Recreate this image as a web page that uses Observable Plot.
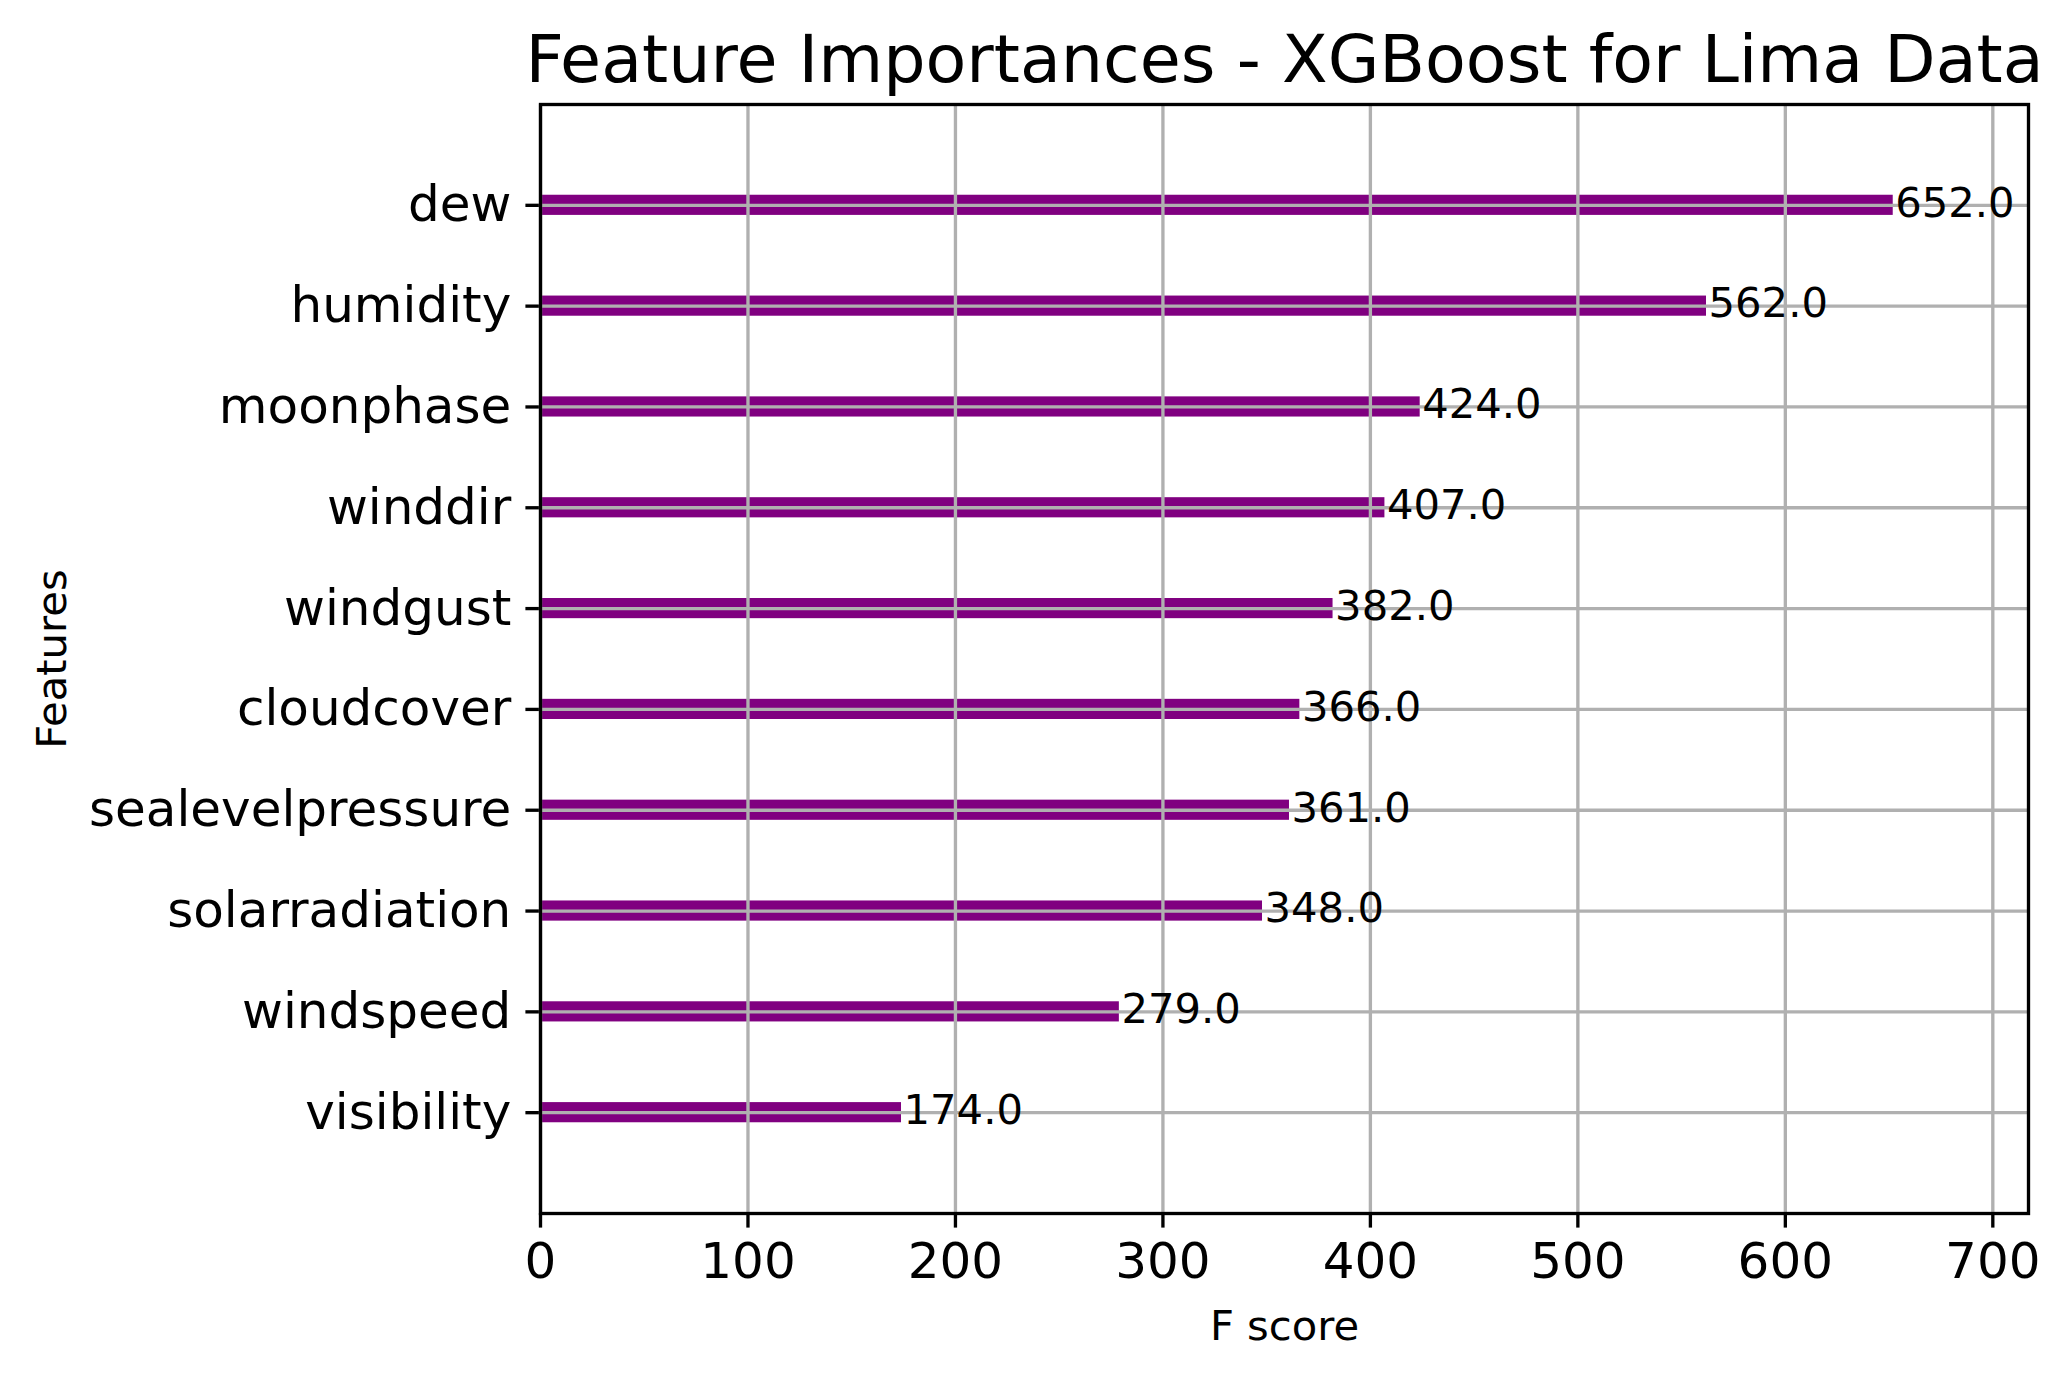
<!DOCTYPE html>
<html><head><meta charset="utf-8">
<script src="https://cdn.jsdelivr.net/npm/d3@7"></script>
<script src="https://cdn.jsdelivr.net/npm/@observablehq/plot@0.6"></script>
<style>html,body{margin:0;padding:0;background:#fff;} svg{display:block}</style>
</head><body><div id="chart"></div>
<script>
const features = ["dew","humidity","moonphase","winddir","windgust","cloudcover","sealevelpressure","solarradiation","windspeed","visibility"];
const scores = [652,562,424,407,382,366,361,348,279,174];
const xTicks = [0,100,200,300,400,500,600,700];
const titleText = "Feature Importances - XGBoost for Lima Data";
const xLabel = "F score";
const yLabel = "Features";

const data = features.map((f, i) => ({feature: f, score: scores[i]}));
const lw = 3.33;
const tick = 14.6;

const chart = Plot.plot({
  width: 2070, height: 1377,
  marginLeft: 540, marginRight: 42, marginTop: 104, marginBottom: 164,
  style: {fontFamily: "DejaVu Sans", fontSize: "50px", background: "#fff", color: "#000", overflow: "visible"},
  x: {domain: [0, d3.max(scores) * 1.1], ticks: xTicks, tickSize: tick, tickPadding: tick, label: null, tickFormat: d => String(d)},
  y: {type: "band", domain: features, paddingInner: 0.8, paddingOuter: 0.9, round: false, tickSize: tick, tickPadding: tick, label: null},
  marks: [
    Plot.barX(data, {x: "score", y: "feature", fill: "#800080"}),
    Plot.ruleX(xTicks, {x: d => d, stroke: "#b0b0b0", strokeWidth: lw}),
    Plot.ruleY(features, {y: d => d, stroke: "#b0b0b0", strokeWidth: lw}),
    Plot.frame({stroke: "#000", strokeWidth: lw}),
    Plot.text(data, {x: "score", y: "feature", text: d => d.score.toFixed(1), dx: 2.07, dy: -2, textAnchor: "start", fontSize: 41.7, fill: "#000"}),
    Plot.text([titleText], {text: d => d, frameAnchor: "top", dy: -23, lineAnchor: "bottom", fontSize: 66.7, fill: "#000"}),
    Plot.text([xLabel], {text: d => d, frameAnchor: "bottom", dy: 126, lineAnchor: "bottom", fontSize: 41.7, fill: "#000"}),
    Plot.text([yLabel], {text: d => d, frameAnchor: "left", dx: -475, rotate: -90, lineAnchor: "bottom", textAnchor: "middle", fontSize: 41.7, fill: "#000"})
  ]
});
// style the axis ticks like matplotlib (line widths only)
const svg = d3.select(chart);
svg.selectAll("g[aria-label='x-axis'] line, g[aria-label='y-axis'] line, g[aria-label='x-axis tick'] path, g[aria-label='y-axis tick'] path")
  .attr("stroke-width", lw).attr("stroke", "#000");
svg.selectAll("g[aria-label='y-axis'] text").attr("dy", "0.4em");
svg.selectAll("g[aria-label='x-axis'] text").attr("dy", "0.75em");
document.getElementById("chart").appendChild(chart);
</script>
</body></html>
